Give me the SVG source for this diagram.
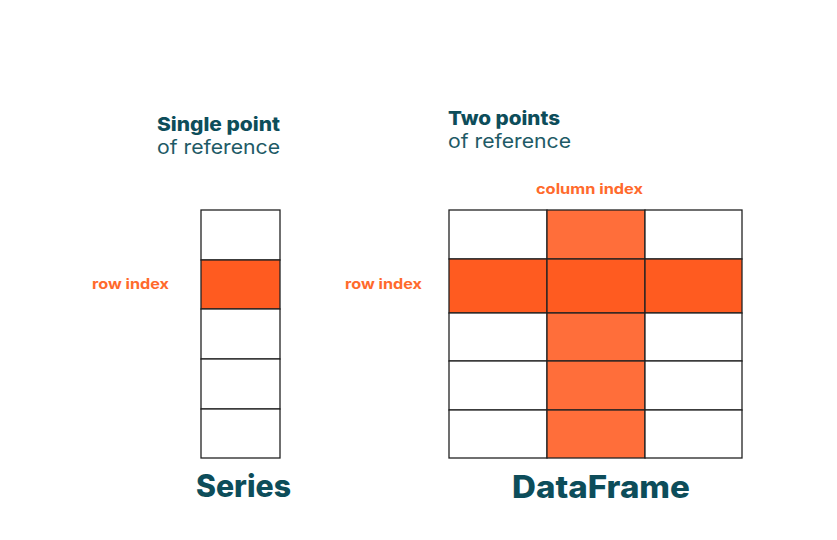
<svg xmlns="http://www.w3.org/2000/svg" width="837" height="540" viewBox="0 0 837 540">
  <style>
    .title { font-family: Inter, "Noto Sans", "Liberation Sans", sans-serif; font-weight: 800; fill: #0D4D5A; }
    .sub { font-family: Inter, "Noto Sans", "Liberation Sans", sans-serif; font-weight: 400; fill: #1E5A66; }
    .idx { font-family: Inter, "Noto Sans", "Liberation Sans", sans-serif; font-weight: 700; fill: #FF6A2C; font-size: 14px; }
    .big { font-family: Inter, "Noto Sans", "Liberation Sans", sans-serif; font-weight: 800; fill: #0D4D5A; font-size: 31px; }
    .cell { fill: #FFFFFF; stroke: #222222; stroke-width: 1.3; }
    .row { fill: #FF5B20; stroke: #222222; stroke-width: 1.3; }
    .col { fill: #FF6E3A; stroke: #222222; stroke-width: 1.3; }
  </style>
  <rect width="837" height="540" fill="#FFFFFF"/>

  <!-- Series: one column of five cells, second row highlighted -->
  <g id="series">
    <text class="title" x="157" y="131" font-size="19" textLength="123" lengthAdjust="spacingAndGlyphs">Single point</text>
    <text class="sub" x="157" y="154" font-size="19" textLength="123" lengthAdjust="spacingAndGlyphs">of reference</text>
    <text class="idx" x="92" y="289" textLength="77" lengthAdjust="spacingAndGlyphs">row index</text>
    <rect class="cell" x="201" y="210" width="79" height="50"/>
    <rect class="row" x="201" y="260" width="79" height="49"/>
    <rect class="cell" x="201" y="309" width="79" height="50"/>
    <rect class="cell" x="201" y="359" width="79" height="50"/>
    <rect class="cell" x="201" y="409" width="79" height="49"/>
    <text class="big" x="196" y="497" textLength="95" lengthAdjust="spacingAndGlyphs">Series</text>
  </g>

  <!-- DataFrame: 3 x 5 grid, middle column and second row highlighted -->
  <g id="dataframe">
    <text class="title" x="448" y="125" font-size="19" textLength="112" lengthAdjust="spacingAndGlyphs">Two points</text>
    <text class="sub" x="448" y="148" font-size="19" textLength="123" lengthAdjust="spacingAndGlyphs">of reference</text>
    <text class="idx" x="536" y="194" textLength="107" lengthAdjust="spacingAndGlyphs">column index</text>
    <text class="idx" x="345" y="289" textLength="77" lengthAdjust="spacingAndGlyphs">row index</text>

    <!-- row 1 -->
    <rect class="cell" x="449" y="210" width="98" height="49"/>
    <rect class="col" x="547" y="210" width="98" height="49"/>
    <rect class="cell" x="645" y="210" width="97" height="49"/>
    <!-- row 2 (highlighted) -->
    <rect class="row" x="449" y="259" width="98" height="54"/>
    <rect class="row" x="547" y="259" width="98" height="54"/>
    <rect class="row" x="645" y="259" width="97" height="54"/>
    <!-- row 3 -->
    <rect class="cell" x="449" y="313" width="98" height="48"/>
    <rect class="col" x="547" y="313" width="98" height="48"/>
    <rect class="cell" x="645" y="313" width="97" height="48"/>
    <!-- row 4 -->
    <rect class="cell" x="449" y="361" width="98" height="49"/>
    <rect class="col" x="547" y="361" width="98" height="49"/>
    <rect class="cell" x="645" y="361" width="97" height="49"/>
    <!-- row 5 -->
    <rect class="cell" x="449" y="410" width="98" height="48"/>
    <rect class="col" x="547" y="410" width="98" height="48"/>
    <rect class="cell" x="645" y="410" width="97" height="48"/>

    <text class="big" x="512" y="498" textLength="178" lengthAdjust="spacingAndGlyphs">DataFrame</text>
  </g>

  <g id="connectors"/>
</svg>
